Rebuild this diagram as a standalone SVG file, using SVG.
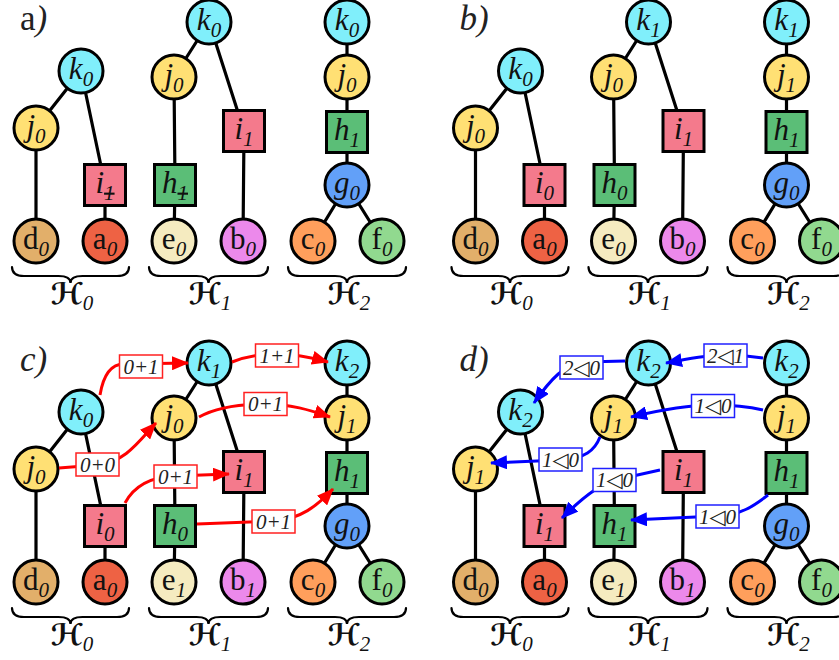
<svg xmlns="http://www.w3.org/2000/svg" width="839" height="660" viewBox="0 0 839 660">
<style>
.bg{fill:#fff}
.e{stroke:#000;stroke-width:3.2;fill:none}
.n{stroke:#000;stroke-width:3}
.cy{fill:#80EFFB}.ye{fill:#FFE074}.pk{fill:#F47A8C}.gr{fill:#5BBE77}.bl{fill:#62A0F8}
.tn{fill:#E2AF6A}.rd{fill:#EE6244}.cr{fill:#F5EBC0}.mg{fill:#EC89EB}.or{fill:#FF9F5C}.lg{fill:#91D98F}
.t{font-family:"Liberation Serif","DejaVu Serif",serif;font-size:31px;text-anchor:middle;fill:#111}
.it{font-style:italic}
.s{font-size:21px;font-style:italic}
.st{text-decoration:line-through}
.br{stroke:#000;stroke-width:2.2;fill:none;stroke-linecap:round}
.H{font-family:"DejaVu Serif","DejaVu Sans",serif;font-size:30px;font-weight:bold;font-style:italic;text-anchor:middle;fill:#111}
.Hs{font-family:"Liberation Serif","DejaVu Serif",serif;font-size:21px;font-weight:normal;font-style:italic}
.pl{font-family:"Liberation Serif","DejaVu Serif",serif;font-size:35px;font-style:italic;fill:#222}
.ra{stroke:#FF0000;stroke-width:3;fill:none}
.ba{stroke:#0000FF;stroke-width:3;fill:none}
.rb{fill:#fff;stroke:#FF2020;stroke-width:1.5}
.bb{fill:#fff;stroke:#2020FF;stroke-width:1.5}
.lt{font-family:"Liberation Serif","DejaVu Serif",serif;font-size:21px;font-style:italic;text-anchor:middle;fill:#222}
</style>
<defs>
<marker id="ahr" markerUnits="userSpaceOnUse" markerWidth="17" markerHeight="14" refX="16" refY="7" orient="auto"><path d="M0,0 L17,7 L0,14 z" fill="#FF0000"/></marker>
<marker id="ahb" markerUnits="userSpaceOnUse" markerWidth="17" markerHeight="14" refX="16" refY="7" orient="auto"><path d="M0,0 L17,7 L0,14 z" fill="#0000FF"/></marker>
</defs>
<rect class="bg" x="0" y="0" width="839" height="660"/>

<!-- Panel a -->
<g id="panel-a">
<text class="pl" x="20" y="30"><tspan font-style="normal">a</tspan>)</text>
<g id="a-edges"><path class="e" d="M81,71L36,128M81,71L105,185M36,128L36,241M105,185L105,241M209,22L174,77M209,22L244,131M174,77L175,185M175,185L174,241M244,131L243,241M347,22L347,185M347,185L313,241M347,185L382,241"/></g>
<g id="a-H0-k"><circle class="n cy" cx="81" cy="71" r="22"/><text class="t it" x="81" y="79">k<tspan class="s" dy="7">0</tspan></text></g>
<g id="a-H0-j"><circle class="n ye" cx="36" cy="128" r="22"/><text class="t it" x="36" y="136">j<tspan class="s" dy="7">0</tspan></text></g>
<g id="a-H0-i"><rect class="n pk" x="84.5" y="164.5" width="41" height="41"/><text class="t it" x="105" y="193">i<tspan class="s st" dy="7">1</tspan></text></g>
<g id="a-H0-d"><circle class="n tn" cx="36" cy="241" r="22"/><text class="t" x="36" y="249">d<tspan class="s" dy="7">0</tspan></text></g>
<g id="a-H0-a"><circle class="n rd" cx="105" cy="241" r="22"/><text class="t" x="105" y="249">a<tspan class="s" dy="7">0</tspan></text></g>
<g id="a-H1-k"><circle class="n cy" cx="209" cy="22" r="22"/><text class="t it" x="209" y="30">k<tspan class="s" dy="7">0</tspan></text></g>
<g id="a-H1-j"><circle class="n ye" cx="174" cy="77" r="22"/><text class="t it" x="174" y="85">j<tspan class="s" dy="7">0</tspan></text></g>
<g id="a-H1-i"><rect class="n pk" x="223.5" y="110.5" width="41" height="41"/><text class="t it" x="244" y="139">i<tspan class="s" dy="7">1</tspan></text></g>
<g id="a-H1-h"><rect class="n gr" x="154.5" y="164.5" width="41" height="41"/><text class="t it" x="175" y="193">h<tspan class="s st" dy="7">1</tspan></text></g>
<g id="a-H1-e"><circle class="n cr" cx="174" cy="241" r="22"/><text class="t" x="174" y="249">e<tspan class="s" dy="7">0</tspan></text></g>
<g id="a-H1-b"><circle class="n mg" cx="243" cy="241" r="22"/><text class="t" x="243" y="249">b<tspan class="s" dy="7">0</tspan></text></g>
<g id="a-H2-k"><circle class="n cy" cx="347" cy="22" r="22"/><text class="t it" x="347" y="30">k<tspan class="s" dy="7">0</tspan></text></g>
<g id="a-H2-j"><circle class="n ye" cx="347" cy="77" r="22"/><text class="t it" x="347" y="85">j<tspan class="s" dy="7">0</tspan></text></g>
<g id="a-H2-h"><rect class="n gr" x="326.5" y="111.5" width="41" height="41"/><text class="t it" x="347" y="140">h<tspan class="s" dy="7">1</tspan></text></g>
<g id="a-H2-g"><circle class="n bl" cx="347" cy="185" r="22"/><text class="t it" x="347" y="193">g<tspan class="s" dy="7">0</tspan></text></g>
<g id="a-H2-c"><circle class="n or" cx="313" cy="241" r="22"/><text class="t" x="313" y="249">c<tspan class="s" dy="7">0</tspan></text></g>
<g id="a-H2-f"><circle class="n lg" cx="382" cy="241" r="22"/><text class="t" x="382" y="249">f<tspan class="s" dy="7">0</tspan></text></g>
<g id="a-braces">
<path class="br" d="M12,267 Q12,276 24,276 L58.5,276 Q70.5,276 70.5,283 Q70.5,276 82.5,276 L117,276 Q129,276 129,267"/>
<path class="br" d="M149,267 Q149,276 161,276 L196.5,276 Q208.5,276 208.5,283 Q208.5,276 220.5,276 L256,276 Q268,276 268,267"/>
<path class="br" d="M288,267 Q288,276 300,276 L335,276 Q347,276 347,283 Q347,276 359,276 L394,276 Q406,276 406,267"/>
<text class="H" x="72" y="304">ℋ<tspan class="Hs" dy="6">0</tspan></text>
<text class="H" x="210" y="304">ℋ<tspan class="Hs" dy="6">1</tspan></text>
<text class="H" x="349" y="304">ℋ<tspan class="Hs" dy="6">2</tspan></text>
</g>
</g>

<!-- Panel b -->
<g id="panel-b" transform="translate(439.5,0)">
<text class="pl" x="20" y="30">b)</text>
<g id="b-edges"><path class="e" d="M81,71L36,128M81,71L105,185M36,128L36,241M105,185L105,241M209,22L174,77M209,22L244,131M174,77L175,185M175,185L174,241M244,131L243,241M347,22L347,185M347,185L313,241M347,185L382,241"/></g>
<g id="b-H0-k"><circle class="n cy" cx="81" cy="71" r="22"/><text class="t it" x="81" y="79">k<tspan class="s" dy="7">0</tspan></text></g>
<g id="b-H0-j"><circle class="n ye" cx="36" cy="128" r="22"/><text class="t it" x="36" y="136">j<tspan class="s" dy="7">0</tspan></text></g>
<g id="b-H0-i"><rect class="n pk" x="84.5" y="164.5" width="41" height="41"/><text class="t it" x="105" y="193">i<tspan class="s" dy="7">0</tspan></text></g>
<g id="b-H0-d"><circle class="n tn" cx="36" cy="241" r="22"/><text class="t" x="36" y="249">d<tspan class="s" dy="7">0</tspan></text></g>
<g id="b-H0-a"><circle class="n rd" cx="105" cy="241" r="22"/><text class="t" x="105" y="249">a<tspan class="s" dy="7">0</tspan></text></g>
<g id="b-H1-k"><circle class="n cy" cx="209" cy="22" r="22"/><text class="t it" x="209" y="30">k<tspan class="s" dy="7">1</tspan></text></g>
<g id="b-H1-j"><circle class="n ye" cx="174" cy="77" r="22"/><text class="t it" x="174" y="85">j<tspan class="s" dy="7">0</tspan></text></g>
<g id="b-H1-i"><rect class="n pk" x="223.5" y="110.5" width="41" height="41"/><text class="t it" x="244" y="139">i<tspan class="s" dy="7">1</tspan></text></g>
<g id="b-H1-h"><rect class="n gr" x="154.5" y="164.5" width="41" height="41"/><text class="t it" x="175" y="193">h<tspan class="s" dy="7">0</tspan></text></g>
<g id="b-H1-e"><circle class="n cr" cx="174" cy="241" r="22"/><text class="t" x="174" y="249">e<tspan class="s" dy="7">0</tspan></text></g>
<g id="b-H1-b"><circle class="n mg" cx="243" cy="241" r="22"/><text class="t" x="243" y="249">b<tspan class="s" dy="7">0</tspan></text></g>
<g id="b-H2-k"><circle class="n cy" cx="347" cy="22" r="22"/><text class="t it" x="347" y="30">k<tspan class="s" dy="7">1</tspan></text></g>
<g id="b-H2-j"><circle class="n ye" cx="347" cy="77" r="22"/><text class="t it" x="347" y="85">j<tspan class="s" dy="7">1</tspan></text></g>
<g id="b-H2-h"><rect class="n gr" x="326.5" y="111.5" width="41" height="41"/><text class="t it" x="347" y="140">h<tspan class="s" dy="7">1</tspan></text></g>
<g id="b-H2-g"><circle class="n bl" cx="347" cy="185" r="22"/><text class="t it" x="347" y="193">g<tspan class="s" dy="7">0</tspan></text></g>
<g id="b-H2-c"><circle class="n or" cx="313" cy="241" r="22"/><text class="t" x="313" y="249">c<tspan class="s" dy="7">0</tspan></text></g>
<g id="b-H2-f"><circle class="n lg" cx="382" cy="241" r="22"/><text class="t" x="382" y="249">f<tspan class="s" dy="7">0</tspan></text></g>
<g id="b-braces">
<path class="br" d="M12,267 Q12,276 24,276 L58.5,276 Q70.5,276 70.5,283 Q70.5,276 82.5,276 L117,276 Q129,276 129,267"/>
<path class="br" d="M149,267 Q149,276 161,276 L196.5,276 Q208.5,276 208.5,283 Q208.5,276 220.5,276 L256,276 Q268,276 268,267"/>
<path class="br" d="M288,267 Q288,276 300,276 L335,276 Q347,276 347,283 Q347,276 359,276 L394,276 Q406,276 406,267"/>
<text class="H" x="72" y="304">ℋ<tspan class="Hs" dy="6">0</tspan></text>
<text class="H" x="210" y="304">ℋ<tspan class="Hs" dy="6">1</tspan></text>
<text class="H" x="349" y="304">ℋ<tspan class="Hs" dy="6">2</tspan></text>
</g>
</g>

<!-- Panel c -->
<g id="panel-c" transform="translate(0,341)">
<text class="pl" x="20" y="30">c)</text>
<g id="c-edges"><path class="e" d="M81,71L36,128M81,71L105,185M36,128L36,241M105,185L105,241M209,22L174,77M209,22L244,131M174,77L175,185M175,185L174,241M244,131L243,241M347,22L347,185M347,185L313,241M347,185L382,241"/></g>
<g id="c-H0-k"><circle class="n cy" cx="81" cy="71" r="22"/><text class="t it" x="81" y="79">k<tspan class="s" dy="7">0</tspan></text></g>
<g id="c-H0-j"><circle class="n ye" cx="36" cy="128" r="22"/><text class="t it" x="36" y="136">j<tspan class="s" dy="7">0</tspan></text></g>
<g id="c-H0-i"><rect class="n pk" x="84.5" y="164.5" width="41" height="41"/><text class="t it" x="105" y="193">i<tspan class="s" dy="7">0</tspan></text></g>
<g id="c-H0-d"><circle class="n tn" cx="36" cy="241" r="22"/><text class="t" x="36" y="249">d<tspan class="s" dy="7">0</tspan></text></g>
<g id="c-H0-a"><circle class="n rd" cx="105" cy="241" r="22"/><text class="t" x="105" y="249">a<tspan class="s" dy="7">0</tspan></text></g>
<g id="c-H1-k"><circle class="n cy" cx="209" cy="22" r="22"/><text class="t it" x="209" y="30">k<tspan class="s" dy="7">1</tspan></text></g>
<g id="c-H1-j"><circle class="n ye" cx="174" cy="77" r="22"/><text class="t it" x="174" y="85">j<tspan class="s" dy="7">0</tspan></text></g>
<g id="c-H1-i"><rect class="n pk" x="223.5" y="110.5" width="41" height="41"/><text class="t it" x="244" y="139">i<tspan class="s" dy="7">1</tspan></text></g>
<g id="c-H1-h"><rect class="n gr" x="154.5" y="164.5" width="41" height="41"/><text class="t it" x="175" y="193">h<tspan class="s" dy="7">0</tspan></text></g>
<g id="c-H1-e"><circle class="n cr" cx="174" cy="241" r="22"/><text class="t" x="174" y="249">e<tspan class="s" dy="7">1</tspan></text></g>
<g id="c-H1-b"><circle class="n mg" cx="243" cy="241" r="22"/><text class="t" x="243" y="249">b<tspan class="s" dy="7">1</tspan></text></g>
<g id="c-H2-k"><circle class="n cy" cx="347" cy="22" r="22"/><text class="t it" x="347" y="30">k<tspan class="s" dy="7">2</tspan></text></g>
<g id="c-H2-j"><circle class="n ye" cx="347" cy="77" r="22"/><text class="t it" x="347" y="85">j<tspan class="s" dy="7">1</tspan></text></g>
<g id="c-H2-h"><rect class="n gr" x="326.5" y="111.5" width="41" height="41"/><text class="t it" x="347" y="140">h<tspan class="s" dy="7">1</tspan></text></g>
<g id="c-H2-g"><circle class="n bl" cx="347" cy="185" r="22"/><text class="t it" x="347" y="193">g<tspan class="s" dy="7">0</tspan></text></g>
<g id="c-H2-c"><circle class="n or" cx="313" cy="241" r="22"/><text class="t" x="313" y="249">c<tspan class="s" dy="7">0</tspan></text></g>
<g id="c-H2-f"><circle class="n lg" cx="382" cy="241" r="22"/><text class="t" x="382" y="249">f<tspan class="s" dy="7">0</tspan></text></g>
<g id="c-braces">
<path class="br" d="M12,267 Q12,276 24,276 L58.5,276 Q70.5,276 70.5,283 Q70.5,276 82.5,276 L117,276 Q129,276 129,267"/>
<path class="br" d="M149,267 Q149,276 161,276 L196.5,276 Q208.5,276 208.5,283 Q208.5,276 220.5,276 L256,276 Q268,276 268,267"/>
<path class="br" d="M288,267 Q288,276 300,276 L335,276 Q347,276 347,283 Q347,276 359,276 L394,276 Q406,276 406,267"/>
<text class="H" x="72" y="304">ℋ<tspan class="Hs" dy="6">0</tspan></text>
<text class="H" x="210" y="304">ℋ<tspan class="Hs" dy="6">1</tspan></text>
<text class="H" x="349" y="304">ℋ<tspan class="Hs" dy="6">2</tspan></text>
</g>
</g>

<!-- Panel d -->
<g id="panel-d" transform="translate(439.5,341)">
<text class="pl" x="20" y="30">d)</text>
<g id="d-edges"><path class="e" d="M81,71L36,128M81,71L105,185M36,128L36,241M105,185L105,241M209,22L174,77M209,22L244,131M174,77L175,185M175,185L174,241M244,131L243,241M347,22L347,185M347,185L313,241M347,185L382,241"/></g>
<g id="d-H0-k"><circle class="n cy" cx="81" cy="71" r="22"/><text class="t it" x="81" y="79">k<tspan class="s" dy="7">2</tspan></text></g>
<g id="d-H0-j"><circle class="n ye" cx="36" cy="128" r="22"/><text class="t it" x="36" y="136">j<tspan class="s" dy="7">1</tspan></text></g>
<g id="d-H0-i"><rect class="n pk" x="84.5" y="164.5" width="41" height="41"/><text class="t it" x="105" y="193">i<tspan class="s" dy="7">1</tspan></text></g>
<g id="d-H0-d"><circle class="n tn" cx="36" cy="241" r="22"/><text class="t" x="36" y="249">d<tspan class="s" dy="7">0</tspan></text></g>
<g id="d-H0-a"><circle class="n rd" cx="105" cy="241" r="22"/><text class="t" x="105" y="249">a<tspan class="s" dy="7">0</tspan></text></g>
<g id="d-H1-k"><circle class="n cy" cx="209" cy="22" r="22"/><text class="t it" x="209" y="30">k<tspan class="s" dy="7">2</tspan></text></g>
<g id="d-H1-j"><circle class="n ye" cx="174" cy="77" r="22"/><text class="t it" x="174" y="85">j<tspan class="s" dy="7">1</tspan></text></g>
<g id="d-H1-i"><rect class="n pk" x="223.5" y="110.5" width="41" height="41"/><text class="t it" x="244" y="139">i<tspan class="s" dy="7">1</tspan></text></g>
<g id="d-H1-h"><rect class="n gr" x="154.5" y="164.5" width="41" height="41"/><text class="t it" x="175" y="193">h<tspan class="s" dy="7">1</tspan></text></g>
<g id="d-H1-e"><circle class="n cr" cx="174" cy="241" r="22"/><text class="t" x="174" y="249">e<tspan class="s" dy="7">1</tspan></text></g>
<g id="d-H1-b"><circle class="n mg" cx="243" cy="241" r="22"/><text class="t" x="243" y="249">b<tspan class="s" dy="7">1</tspan></text></g>
<g id="d-H2-k"><circle class="n cy" cx="347" cy="22" r="22"/><text class="t it" x="347" y="30">k<tspan class="s" dy="7">2</tspan></text></g>
<g id="d-H2-j"><circle class="n ye" cx="347" cy="77" r="22"/><text class="t it" x="347" y="85">j<tspan class="s" dy="7">1</tspan></text></g>
<g id="d-H2-h"><rect class="n gr" x="326.5" y="111.5" width="41" height="41"/><text class="t it" x="347" y="140">h<tspan class="s" dy="7">1</tspan></text></g>
<g id="d-H2-g"><circle class="n bl" cx="347" cy="185" r="22"/><text class="t it" x="347" y="193">g<tspan class="s" dy="7">0</tspan></text></g>
<g id="d-H2-c"><circle class="n or" cx="313" cy="241" r="22"/><text class="t" x="313" y="249">c<tspan class="s" dy="7">0</tspan></text></g>
<g id="d-H2-f"><circle class="n lg" cx="382" cy="241" r="22"/><text class="t" x="382" y="249">f<tspan class="s" dy="7">0</tspan></text></g>
<g id="d-braces">
<path class="br" d="M12,267 Q12,276 24,276 L58.5,276 Q70.5,276 70.5,283 Q70.5,276 82.5,276 L117,276 Q129,276 129,267"/>
<path class="br" d="M149,267 Q149,276 161,276 L196.5,276 Q208.5,276 208.5,283 Q208.5,276 220.5,276 L256,276 Q268,276 268,267"/>
<path class="br" d="M288,267 Q288,276 300,276 L335,276 Q347,276 347,283 Q347,276 359,276 L394,276 Q406,276 406,267"/>
<text class="H" x="72" y="304">ℋ<tspan class="Hs" dy="6">0</tspan></text>
<text class="H" x="210" y="304">ℋ<tspan class="Hs" dy="6">1</tspan></text>
<text class="H" x="349" y="304">ℋ<tspan class="Hs" dy="6">2</tspan></text>
</g>
</g>

<!-- Red connectors (panel c) -->
<g id="connectors-red">
<path class="ra" marker-end="url(#ahr)" d="M100,395 C103,377 110,364 124,364 L188,363"/>
<path class="ra" marker-end="url(#ahr)" d="M232,362 C245,357 260,354 276,354 C295,354 310,357 328,362"/>
<path class="ra" marker-end="url(#ahr)" d="M199,417 C215,408 240,404 265,404 C290,404 310,410 330,417"/>
<path class="ra" marker-end="url(#ahr)" d="M59,468 L97,465 C125,463 140,440 156,423"/>
<path class="ra" marker-end="url(#ahr)" d="M125,503 C132,490 145,477 175,476 L229,474"/>
<path class="ra" marker-end="url(#ahr)" d="M197,524 L273,521 C300,520 318,505 333,489"/>
<rect class="rb" x="119.5" y="355" width="43" height="23"/><text class="lt" x="141" y="373.5">0+1</text>
<rect class="rb" x="255.5" y="344" width="43" height="23"/><text class="lt" x="277" y="362.5">1+1</text>
<rect class="rb" x="244" y="392.5" width="43" height="23"/><text class="lt" x="265.5" y="411">0+1</text>
<rect class="rb" x="76" y="453" width="43" height="23"/><text class="lt" x="97.5" y="471.5">0+0</text>
<rect class="rb" x="154" y="465" width="43" height="23"/><text class="lt" x="175.5" y="483.5">0+1</text>
<rect class="rb" x="252" y="510" width="43" height="23"/><text class="lt" x="273.5" y="528.5">0+1</text>
</g>

<!-- Blue connectors (panel d) -->
<g id="connectors-blue">
<path class="ba" marker-end="url(#ahb)" d="M625,361 L585,362 C565,363 550,380 534,403"/>
<path class="ba" marker-end="url(#ahb)" d="M763,358 C750,356 740,355 725,355 C705,355 688,359 666,363"/>
<path class="ba" marker-end="url(#ahb)" d="M763,410 C750,407 735,405 713,405 C690,405 660,410 631,417"/>
<path class="ba" marker-end="url(#ahb)" d="M600,437 C595,450 585,459 560,460 L491,463"/>
<path class="ba" marker-end="url(#ahb)" d="M660,470 L615,480 C600,484 580,500 562,518"/>
<path class="ba" marker-end="url(#ahb)" d="M768,495 C755,505 740,516 717,516 L631,520"/>
<rect class="bb" x="560" y="356" width="43" height="23"/><text class="lt" x="581.5" y="374.5">2◁0</text>
<rect class="bb" x="704" y="344" width="43" height="23"/><text class="lt" x="725.5" y="362.5">2◁1</text>
<rect class="bb" x="691.5" y="394.5" width="43" height="23"/><text class="lt" x="713" y="413">1◁0</text>
<rect class="bb" x="539" y="448" width="43" height="23"/><text class="lt" x="560.5" y="466.5">1◁0</text>
<rect class="bb" x="593" y="468.5" width="43" height="23"/><text class="lt" x="614.5" y="487">1◁0</text>
<rect class="bb" x="696" y="505" width="43" height="23"/><text class="lt" x="717.5" y="523.5">1◁0</text>
</g>
</svg>
